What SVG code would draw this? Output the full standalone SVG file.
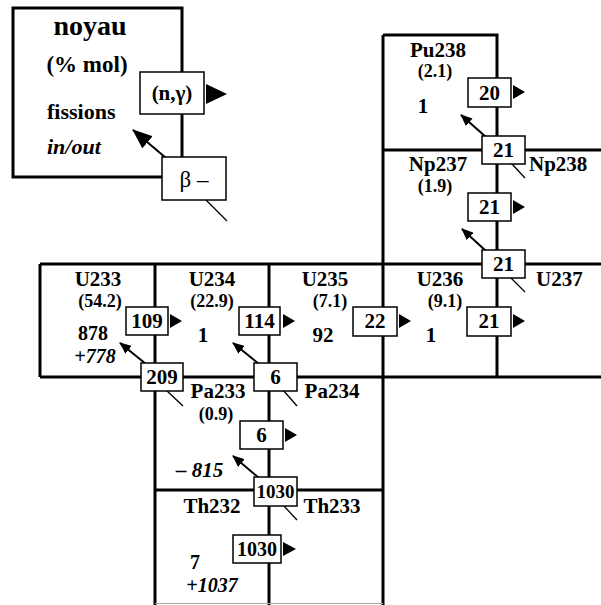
<svg xmlns="http://www.w3.org/2000/svg" width="601" height="605" viewBox="0 0 601 605">
<style>
text{font-family:"Liberation Serif","Times New Roman",serif;font-weight:bold;font-size:21px;fill:#000;text-anchor:middle}
.pc{font-size:18px}
.it{font-style:italic}
.st{text-anchor:start}
.fn{font-size:20px}
.grid{stroke:#000;stroke-width:3;fill:none}
.box{fill:#fff;stroke:#000;stroke-width:1.5}
.arr{stroke:#000;stroke-width:2;fill:none}
.tail{stroke:#000;stroke-width:1.3;fill:none}
.tri{fill:#000}
</style>
<defs>
<marker id="ah" viewBox="0 0 12 10" refX="11" refY="5" markerWidth="12" markerHeight="10" markerUnits="userSpaceOnUse" orient="auto"><path d="M0,0 L12,5 L0,10 Z" fill="#000"/></marker>
<marker id="ahL" viewBox="0 0 20 16" refX="19" refY="8" markerWidth="20" markerHeight="16" markerUnits="userSpaceOnUse" orient="auto"><path d="M0,0 L20,8 L0,16 Z" fill="#000"/></marker>
</defs>
<rect width="601" height="605" fill="#fff"/>
<g id="grid" class="grid">
<rect x="13" y="8" width="169" height="169"/>
<path d="M383,35 H497 V377 M383,35 V605 M383,150 H601 M40,264 H601 M40,377 H601 M40,264 V377 M155,264 V605 M269,264 V605 M155,490 H383"/>
<path d="M155,603.5 H383" stroke="#aaa" stroke-width="1"/>
</g>
<g id="connectors">
<line class="arr" x1="166" y1="158" x2="133" y2="130" marker-end="url(#ahL)"/>
<line class="tail" x1="206" y1="200" x2="227" y2="221"/>
<polygon class="tri" points="206,84 227,94 206,104"/>
<line class="arr" x1="486" y1="137" x2="461" y2="115" marker-end="url(#ah)"/>
<line class="arr" x1="486" y1="251" x2="462" y2="229" marker-end="url(#ah)"/>
<line class="arr" x1="146" y1="364" x2="120" y2="343" marker-end="url(#ah)"/>
<line class="arr" x1="259" y1="364" x2="233" y2="343" marker-end="url(#ah)"/>
<line class="arr" x1="259" y1="478" x2="233" y2="456" marker-end="url(#ah)"/>
<line class="tail" x1="511" y1="163" x2="525" y2="178"/>
<line class="tail" x1="510" y1="277" x2="525" y2="292"/>
<line class="tail" x1="166" y1="390" x2="183" y2="406"/>
<line class="tail" x1="283" y1="390" x2="297" y2="406"/>
<line class="tail" x1="283" y1="505" x2="297" y2="520"/>
<polygon class="tri" points="513,85 525,92 513,99"/>
<polygon class="tri" points="513,200 525,207 513,214"/>
<polygon class="tri" points="170,314 182,321 170,328"/>
<polygon class="tri" points="283,314 295,321 283,328"/>
<polygon class="tri" points="399,314 411,321 399,328"/>
<polygon class="tri" points="513,314 525,321 513,328"/>
<polygon class="tri" points="285,428 297,435 285,442"/>
<polygon class="tri" points="283,542 296,549 283,556"/>
</g>
<g id="legend">
<text x="90" y="35" style="font-size:28px">noyau</text>
<text x="87" y="72" style="font-size:23px">(% mol)</text>
<text class="st" x="47" y="119" style="font-size:22px">fissions</text>
<text class="st it" x="47" y="154" style="font-size:22px">in/out</text>
<rect class="box" x="140" y="72" width="64" height="42"/>
<text x="172" y="100">(n,γ)</text>
<rect class="box" x="162" y="157" width="64" height="43"/>
<text x="194" y="187" style="font-weight:normal;font-size:23px">β –</text>
</g>
<g id="Pu238"><text x="438" y="57">Pu238</text><text class="pc" x="435" y="77">(2.1)</text><text x="423" y="113">1</text></g>
<g id="Np237"><text x="438" y="171">Np237</text><text class="pc" x="435" y="192">(1.9)</text></g>
<g id="Np238"><text class="st" x="529" y="171">Np238</text></g>
<g id="U233"><text x="98" y="286">U233</text><text class="pc" x="100" y="307">(54.2)</text><text class="fn" x="93" y="340">878</text><text class="fn it" x="95" y="363">+778</text></g>
<g id="U234"><text x="212" y="286">U234</text><text class="pc" x="212" y="307">(22.9)</text><text x="203" y="342">1</text></g>
<g id="U235"><text x="325" y="286">U235</text><text class="pc" x="330" y="307">(7.1)</text><text x="323" y="342">92</text></g>
<g id="U236"><text x="440" y="286">U236</text><text class="pc" x="445" y="307">(9.1)</text><text x="431" y="342">1</text></g>
<g id="U237"><text class="st" x="536" y="286">U237</text></g>
<g id="Pa233"><text x="218" y="398">Pa233</text><text class="pc" x="216" y="420">(0.9)</text><text class="st it" x="176" y="477">– 815</text></g>
<g id="Pa234"><text x="332" y="398">Pa234</text></g>
<g id="Th232"><text x="212" y="513">Th232</text><text class="fn" x="195" y="569">7</text><text class="fn it" x="212" y="592">+1037</text></g>
<g id="Th233"><text x="332" y="513">Th233</text></g>
<g id="ng-Pu238"><rect class="box" x="468" y="78" width="43" height="29"/><text x="489.5" y="100">20</text></g>
<g id="b-Np238"><rect class="box" x="482" y="136" width="43" height="28"/><text x="503.5" y="157">21</text></g>
<g id="ng-Np237"><rect class="box" x="468" y="193" width="43" height="28"/><text x="489.5" y="214">21</text></g>
<g id="b-U237"><rect class="box" x="482" y="250" width="43" height="28"/><text x="503.5" y="271">21</text></g>
<g id="ng-U233"><rect class="box" x="126" y="307" width="42" height="28"/><text x="147" y="328">109</text></g>
<g id="ng-U234"><rect class="box" x="239" y="307" width="41" height="28"/><text x="259.5" y="328">114</text></g>
<g id="ng-U235"><rect class="box" x="353" y="307" width="44" height="29"/><text x="375" y="328">22</text></g>
<g id="ng-U236"><rect class="box" x="467" y="307" width="44" height="29"/><text x="489" y="328">21</text></g>
<g id="b-Pa233"><rect class="box" x="141" y="363" width="42" height="28"/><text x="162" y="384">209</text></g>
<g id="b-Pa234"><rect class="box" x="254" y="363" width="43" height="28"/><text x="275.5" y="384">6</text></g>
<g id="ng-Pa233"><rect class="box" x="240" y="421" width="43" height="28"/><text x="261.5" y="442">6</text></g>
<g id="b-Th233"><rect class="box" x="254" y="477" width="43" height="29"/><text x="275.5" y="498" style="font-size:19px">1030</text></g>
<g id="ng-Th232"><rect class="box" x="233" y="535" width="48" height="28"/><text x="257" y="556" style="font-size:20px">1030</text></g>
</svg>
